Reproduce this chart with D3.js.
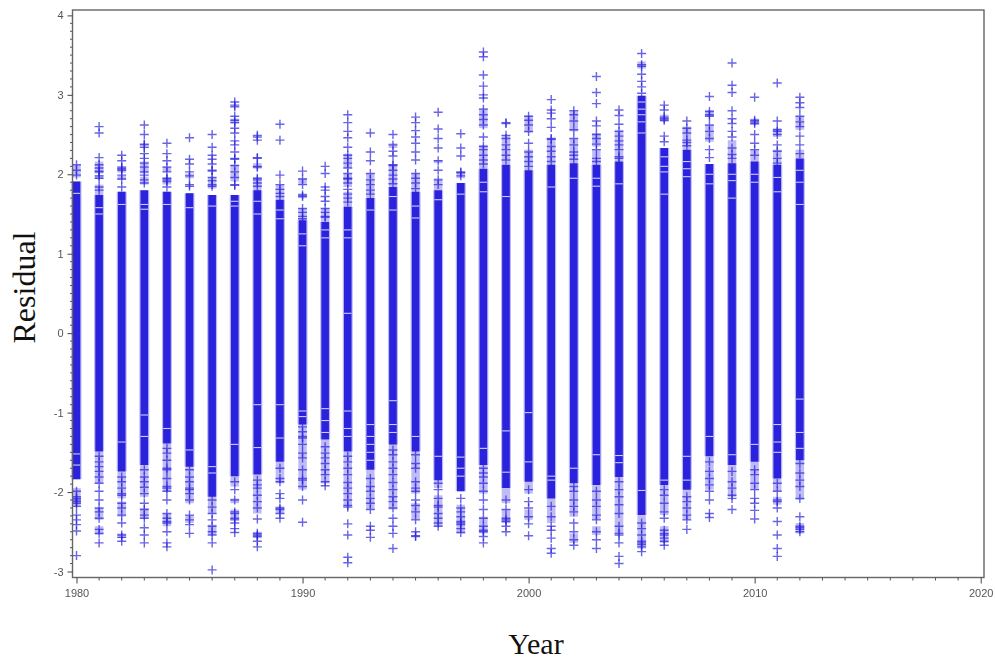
<!DOCTYPE html>
<html><head><meta charset="utf-8">
<script src="https://cdn.jsdelivr.net/npm/d3@7/dist/d3.min.js"></script>
<style>html,body{margin:0;padding:0;background:#fff}svg{display:block}</style>
</head><body><div id="chart"></div>
<script>
const years = d3.range(1980, 2013);
const bandHigh = [1.91,1.74,1.78,1.80,1.78,1.76,1.74,1.74,1.80,1.68,1.42,1.40,1.59,1.70,1.84,1.78,1.80,1.89,2.07,2.12,2.05,2.12,2.14,2.12,2.16,2.99,2.33,2.31,2.13,2.14,2.16,2.12,2.20];
const bandLow = [-1.84,-1.49,-1.74,-1.66,-1.39,-1.68,-2.06,-1.80,-1.78,-1.62,-1.15,-1.34,-1.49,-1.72,-1.40,-1.49,-1.85,-1.99,-1.66,-1.95,-1.87,-2.08,-1.89,-1.91,-1.81,-2.29,-1.91,-1.97,-1.55,-1.66,-1.62,-1.83,-1.60];
const bandGaps = [
 [1.76,-1.52,-1.66],[1.58,1.5],[1.62,-1.37],[1.62,1.56,-1.30,-1.03],[1.62,-1.2],[1.58,-1.47],[1.60,-1.68,-1.76],[1.60,1.66,-1.40],[1.66,1.5,-0.9,-1.44],[1.44,1.55,-0.9,-1.32],[1.25,1.1,-0.98,-1.05],[1.30,1.2,-0.95,-1.1,-1.25],
 [1.3,0.25,1.2,-0.98,-1.2,-1.3],[1.55,-1.15,-1.3,-1.4,-1.5,-1.6],[1.72,1.55,-0.85,-1.15,-1.25],[1.6,1.45,-1.3],[1.68,-1.55],[1.75,-1.56,-1.7,-1.8],[1.90,1.78,-1.45],[1.72,-1.23,-1.75],[-1.0,-1.62],[1.84,-1.80,-1.85],
 [1.95,-1.70],[1.95,1.85,-1.53],[1.88,-1.54,-1.63],[2.91,2.82,2.75,2.66,2.52,-1.98],[2.22,2.10,2.03,1.75,-1.85],[2.16,2.07,1.97,-1.55,-1.85],[2.0,1.88,-1.30],[2.00,1.92,1.7,-1.53],[2.0,1.9,-1.4],[1.96,1.78,-1.15,-1.37,-1.50],[2.05,1.9,1.62,-0.83,-1.25,-1.45]
];
const stripeZones = [
 [[2.12,1.96],[-1.95,-2.18]],
 [[2.16,2.01],[1.99,1.94],[1.87,1.74],[-1.49,-1.89],[-2.20,-2.35],[-2.43,-2.54]],
 [[2.10,2.02],[1.98,1.93],[-1.74,-2.08],[-2.12,-2.31],[-2.52,-2.58]],
 [[2.16,2.01],[1.97,1.87],[-1.66,-2.06],[-2.20,-2.33]],
 [[2.10,2.03],[1.96,1.87],[-1.39,-1.99],[-2.27,-2.43]],
 [[2.01,1.95],[-1.68,-2.14],[-2.29,-2.39]],
 [[1.96,1.82],[-2.06,-2.27],[-2.41,-2.54]],
 [[2.70,2.64],[2.12,1.91],[-1.80,-1.93],[-2.08,-2.14],[-2.22,-2.35]],
 [[2.14,2.07],[1.96,1.80],[-1.78,-2.27],[-2.50,-2.58]],
 [[1.87,1.68],[-1.62,-1.89],[-2.18,-2.27]],
 [[1.95,1.87],[1.76,1.70],[1.57,1.36],[-1.09,-1.97]],
 [[1.57,1.36],[-1.34,-1.89]],
 [[2.26,2.08],[2.01,1.84],[1.78,1.59],[-1.49,-2.18]],
 [[2.01,1.70],[-1.72,-2.22]],
 [[2.39,2.33],[2.12,1.84],[-1.34,-2.22]],
 [[2.01,1.78],[-1.49,-2.02],[-2.14,-2.35]],
 [[2.18,2.14],[1.95,1.80],[-1.85,-1.95],[-2.04,-2.43]],
 [[2.03,1.95],[-2.16,-2.52]],
 [[2.83,2.58],[2.37,2.07],[-1.66,-2.02],[-2.31,-2.52]],
 [[2.49,2.12],[-1.95,-2.14],[-2.22,-2.39]],
 [[2.74,2.52],[2.31,2.05],[-1.87,-2.02],[-2.22,-2.35]],
 [[2.45,2.12],[-2.08,-2.39]],
 [[2.79,2.54],[2.45,2.14],[-1.89,-2.31],[-2.52,-2.64]],
 [[2.52,2.35],[2.31,2.12],[-1.91,-2.35],[-2.43,-2.54]],
 [[2.56,2.16],[-1.81,-2.52]],
 [[3.42,3.33],[-2.29,-2.71]],
 [[2.75,2.66],[-1.91,-2.29],[-2.43,-2.64]],
 [[2.60,2.31],[-1.97,-2.35]],
 [[2.81,2.73],[2.62,2.41],[-1.55,-1.97]],
 [[2.43,2.37],[2.37,2.14],[-1.66,-2.06]],
 [[2.70,2.62],[2.31,2.16],[-1.62,-1.97]],
 [[2.58,2.47],[2.31,2.12],[-1.83,-1.99],[-2.06,-2.16]],
 [[2.73,2.56],[2.31,2.20],[-1.60,-2.10],[-2.39,-2.52]]
];
const upperTail = [
 [2.12,2.05,1.99],
 [2.60,2.52,2.21,2.12,2.08,2.04,2.03,1.98,1.95,1.84,1.80],
 [2.24,2.17,2.09,2.07,2.05,1.99,1.94,1.84],
 [2.62,2.50,2.38,2.37,2.34,2.26,2.20,2.14,2.09,2.03,1.99,1.93,1.89],
 [2.39,2.26,2.17,2.09,2.03,1.95,1.93,1.91,1.84],
 [2.46,2.19,2.13,2.03,1.98,1.87,1.85],
 [2.50,2.34,2.24,2.19,2.13,2.05,2.04,1.96,1.92,1.87,1.85],
 [2.91,2.87,2.85,2.73,2.68,2.65,2.58,2.52,2.42,2.37,2.28,2.20,2.19,2.11,2.03,1.96,1.87,1.86],
 [2.49,2.47,2.43,2.21,2.20,2.10,2.09,1.95,1.93,1.89,1.85],
 [2.63,2.43,1.99,1.87,1.81,1.76,1.72],
 [2.04,1.94,1.87,1.74,1.72,1.57,1.52,1.47,1.44],
 [2.10,2.01,1.84,1.80,1.72,1.66,1.57,1.52,1.47,1.46],
 [2.75,2.65,2.54,2.46,2.34,2.24,2.20,2.14,2.08,2.01,1.95,1.94,1.89,1.81,1.75,1.70,1.65],
 [2.52,2.28,2.17,2.01,1.93,1.87,1.80,1.75],
 [2.50,2.37,2.29,2.23,2.12,2.11,2.05,1.99,1.94,1.88],
 [2.72,2.65,2.55,2.47,2.39,2.28,2.18,2.01,1.95,1.89,1.82],
 [2.78,2.57,2.45,2.33,2.17,2.05,1.93,1.87],
 [2.51,2.33,2.23,2.03,2.02,1.98],
 [3.54,3.48,3.25,3.11,3.00,2.96,2.82,2.75,2.69,2.62,2.47,2.35,2.31,2.24,2.18,2.13],
 [2.65,2.64,2.49,2.45,2.37,2.31,2.24,2.18],
 [2.73,2.68,2.62,2.54,2.39,2.28,2.22,2.16,2.10],
 [2.94,2.81,2.77,2.70,2.59,2.45,2.44,2.35,2.29,2.22,2.16],
 [2.80,2.75,2.67,2.56,2.45,2.37,2.28,2.24,2.19],
 [3.23,3.03,2.89,2.67,2.61,2.50,2.45,2.38,2.31,2.20,2.16],
 [2.81,2.74,2.63,2.54,2.48,2.42,2.37,2.31,2.22,2.20],
 [3.52,3.38,3.36,3.26,3.17,3.10,3.02],
 [2.87,2.81,2.72,2.70,2.68,2.48,2.41],
 [2.67,2.58,2.52,2.43,2.40,2.36],
 [2.98,2.79,2.75,2.73,2.62,2.54,2.45,2.31,2.21],
 [3.40,3.12,3.03,2.80,2.70,2.64,2.54,2.47,2.33,2.25,2.2],
 [2.97,2.68,2.66,2.64,2.50,2.39,2.31,2.24],
 [3.15,2.67,2.56,2.54,2.50,2.37,2.29,2.20,2.14],
 [2.97,2.90,2.84,2.73,2.66,2.60,2.48,2.37,2.26]
];
const lowerTail = [
 [-1.99,-2.06,-2.08,-2.10,-2.12,-2.14,-2.18,-2.29,-2.35,-2.41,-2.49,-2.80],
 [-1.55,-1.62,-1.68,-1.74,-1.81,-1.89,-1.99,-2.10,-2.20,-2.25,-2.33,-2.47,-2.52,-2.64],
 [-1.81,-1.87,-1.95,-2.02,-2.04,-2.14,-2.20,-2.29,-2.39,-2.54,-2.57,-2.62],
 [-1.72,-1.81,-1.87,-1.94,-2.02,-2.14,-2.22,-2.29,-2.33,-2.45,-2.54,-2.64],
 [-1.45,-1.51,-1.60,-1.70,-1.72,-1.83,-1.93,-1.95,-1.99,-2.10,-2.27,-2.33,-2.37,-2.39,-2.50,-2.64,-2.69],
 [-1.72,-1.81,-1.87,-1.95,-1.97,-2.02,-2.10,-2.29,-2.35,-2.41,-2.52],
 [-2.10,-2.19,-2.27,-2.35,-2.43,-2.50,-2.54,-2.64,-2.98],
 [-1.87,-1.97,-2.10,-2.25,-2.27,-2.33,-2.35,-2.39,-2.46,-2.51],
 [-1.85,-1.91,-1.95,-2.04,-2.12,-2.20,-2.34,-2.52,-2.54,-2.56,-2.62,-2.69],
 [-1.70,-1.83,-1.87,-2.02,-2.08,-2.20,-2.22,-2.27,-2.33],
 [-1.18,-1.24,-1.30,-1.32,-1.40,-1.51,-1.57,-1.72,-1.83,-1.85,-1.93,-2.10,-2.38],
 [-1.43,-1.51,-1.57,-1.64,-1.72,-1.78,-1.87,-1.92],
 [-1.55,-1.62,-1.70,-1.78,-1.88,-1.95,-2.02,-2.10,-2.17,-2.19,-2.40,-2.54,-2.82,-2.89],
 [-1.83,-1.93,-1.99,-2.08,-2.14,-2.22,-2.43,-2.48,-2.57],
 [-1.47,-1.53,-1.62,-1.70,-1.78,-1.88,-1.97,-2.06,-2.12,-2.20,-2.33,-2.43,-2.52,-2.71],
 [-1.53,-1.64,-1.70,-1.87,-1.95,-1.99,-2.10,-2.17,-2.25,-2.35,-2.50,-2.55,-2.56],
 [-1.89,-1.97,-2.08,-2.17,-2.19,-2.27,-2.33,-2.39,-2.43],
 [-2.08,-2.20,-2.25,-2.31,-2.37,-2.39,-2.41,-2.46,-2.51],
 [-1.70,-1.76,-1.81,-1.89,-1.99,-2.10,-2.22,-2.33,-2.43,-2.48,-2.50,-2.56,-2.64],
 [-2.10,-2.22,-2.33,-2.35,-2.37,-2.43,-2.50],
 [-1.97,-2.12,-2.20,-2.31,-2.40,-2.55],
 [-2.18,-2.31,-2.43,-2.48,-2.58,-2.71,-2.77],
 [-1.93,-1.99,-2.10,-2.18,-2.25,-2.39,-2.50,-2.60,-2.67],
 [-1.99,-2.10,-2.18,-2.29,-2.35,-2.50,-2.60,-2.71],
 [-1.87,-1.97,-2.06,-2.16,-2.27,-2.43,-2.52,-2.54,-2.64,-2.81,-2.90],
 [-2.39,-2.46,-2.54,-2.62,-2.64,-2.66,-2.69,-2.75],
 [-1.97,-2.04,-2.14,-2.25,-2.33,-2.48,-2.52,-2.54,-2.58,-2.62,-2.67],
 [-2.06,-2.12,-2.20,-2.29,-2.35,-2.47],
 [-1.62,-1.74,-1.83,-1.91,-1.99,-2.10,-2.27,-2.32],
 [-1.74,-1.87,-1.95,-2.04,-2.08,-2.22],
 [-1.72,-1.78,-1.89,-1.97,-2.08,-2.14,-2.23,-2.34],
 [-1.89,-1.99,-2.10,-2.12,-2.20,-2.37,-2.54,-2.71,-2.81],
 [-1.64,-1.76,-1.85,-1.93,-2.08,-2.31,-2.43,-2.45,-2.47,-2.50]
];
const xMajor = [1980,1990,2000,2010,2020];
const yMajor = [-3,-2,-1,0,1,2,3,4];
const xTitle = "Year", yTitle = "Residual";

const W = 995, H = 661;
const frame = {left:72.5, right:984, top:10, bottom:577.5};
const x = d3.scaleLinear().domain([1980,2020]).range([76.5,980.7]);
const y = d3.scaleLinear().domain([-3,4]).range([571.5,15.4]);
const blue = "#2a22dc", axisGrey = "#666";

const svg = d3.select("#chart").append("svg").attr("width",W).attr("height",H);
const defs = svg.append("defs");
defs.append("filter").attr("id","soft").attr("x","-5%").attr("y","-5%").attr("width","110%").attr("height","110%")
  .append("feGaussianBlur").attr("stdDeviation",0.45);
defs.append("filter").attr("id","softer").attr("x","-5%").attr("y","-5%").attr("width","110%").attr("height","110%")
  .append("feGaussianBlur").attr("stdDeviation",0.3);

const marks = svg.append("g").attr("filter","url(#soft)");
const plus = "M-4.5,0H4.5M0,-4.5V4.5";

years.forEach((yr,i)=>{
  const g = marks.append("g");
  const cx = x(yr);
  g.selectAll("line.zone").data(stripeZones[i]).join("line").attr("class","zone")
    .attr("x1",cx).attr("x2",cx).attr("y1",d=>y(d[0])).attr("y2",d=>y(d[1]))
    .attr("stroke",blue).attr("stroke-opacity",0.3).attr("stroke-width",8.5);
  g.append("line").attr("x1",cx).attr("x2",cx).attr("y1",y(bandHigh[i])).attr("y2",y(bandLow[i]))
    .attr("stroke","#b9b6f2").attr("stroke-width",10);
  g.append("line").attr("x1",cx).attr("x2",cx).attr("y1",y(bandHigh[i])).attr("y2",y(bandLow[i]))
    .attr("stroke",blue).attr("stroke-width",7.6);
  g.selectAll("line.gap").data(bandGaps[i]).join("line").attr("class","gap")
    .attr("x1",cx-3.8).attr("x2",cx+3.8).attr("y1",d=>y(d)).attr("y2",d=>y(d))
    .attr("stroke","#cfcdf6").attr("stroke-width",1.1);
  g.selectAll("path.up").data(upperTail[i].concat(lowerTail[i])).join("path").attr("class","up")
    .attr("transform",d=>`translate(${cx},${y(d)})`).attr("d",plus)
    .attr("fill","none").attr("stroke",blue).attr("stroke-width",1.4).attr("stroke-opacity",0.7);
});

// axes
const axG = svg.append("g").attr("filter","url(#softer)");
axG.append("rect").attr("x",frame.left).attr("y",frame.top)
  .attr("width",frame.right-frame.left).attr("height",frame.bottom-frame.top)
  .attr("fill","none").attr("stroke",axisGrey).attr("stroke-width",1.4);

const yAxis = d3.axisLeft(y).tickValues(yMajor).tickFormat(d=>String(d)).tickSize(5).tickPadding(4);
const xAxis = d3.axisBottom(x).tickValues(xMajor).tickFormat(d=>String(d)).tickSize(6).tickPadding(6);
const yG = axG.append("g").attr("transform",`translate(${frame.left},0)`).call(yAxis);
const xG = axG.append("g").attr("transform",`translate(0,${frame.bottom})`).call(xAxis);
[yG,xG].forEach(g=>{
  g.select(".domain").remove();
  g.selectAll("line").attr("stroke","#444");
  g.selectAll("text").attr("fill","#555").style("font-family","Liberation Sans, Arial, sans-serif").style("font-size","11px");
});
const yMinor = d3.range(-30,41).map(d=>d/10).filter(d=>Math.abs(d%1)>1e-9);
axG.append("g").selectAll("line").data(yMinor).join("line")
  .attr("x1",frame.left-2.5).attr("x2",frame.left).attr("y1",d=>y(d)).attr("y2",d=>y(d)).attr("stroke","#555");
const xMinor = d3.range(1980,2021).filter(d=>d%10!==0);
axG.append("g").selectAll("line").data(xMinor).join("line")
  .attr("y1",frame.bottom).attr("y2",frame.bottom+3).attr("x1",d=>x(d)).attr("x2",d=>x(d)).attr("stroke","#555");

// titles
svg.append("text").attr("x",536).attr("y",654).attr("text-anchor","middle")
  .style("font-family","Liberation Serif, Times New Roman, serif").style("font-size","30px").attr("fill","#111").text(xTitle);
svg.append("text").attr("transform","translate(35,287.5) rotate(-90)").attr("text-anchor","middle")
  .style("font-family","Liberation Serif, Times New Roman, serif").style("font-size","32px").attr("fill","#111").text(yTitle);
</script></body></html>
